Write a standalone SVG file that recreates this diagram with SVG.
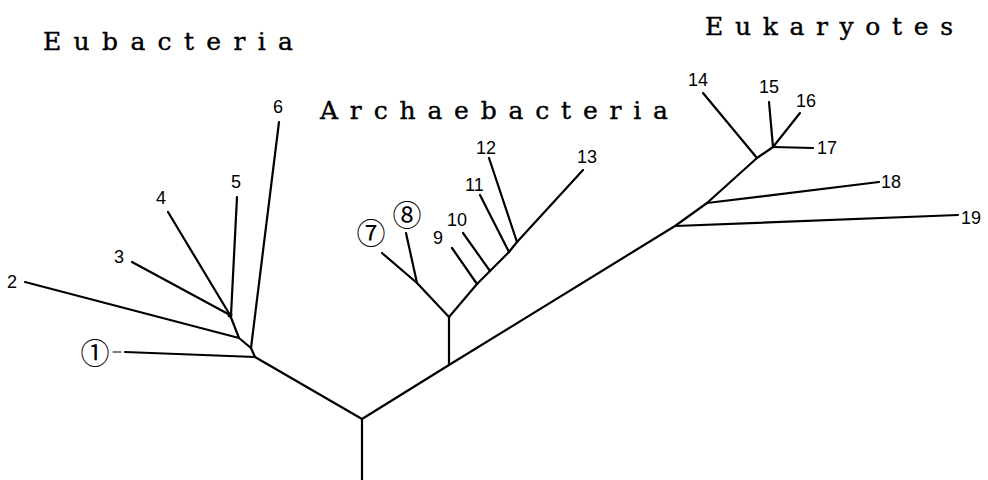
<svg xmlns="http://www.w3.org/2000/svg" width="988" height="480" viewBox="0 0 988 480">
<style>
.br{stroke:#000;stroke-width:2.2;fill:none;stroke-linecap:round;stroke-linejoin:round}
.ttl{font-family:"DejaVu Serif","Liberation Serif",serif;font-size:25px;fill:#000;stroke:#000;stroke-width:0.4}
.num{font-family:"Liberation Sans",Arial,sans-serif;font-size:18px;fill:#000}
.circ{font-family:"Noto Sans CJK JP","DejaVu Sans",sans-serif;font-size:29px;fill:#000}
</style>
<rect width="988" height="480" fill="#fff"/>
<g id="titles">
<text class="ttl" x="43" y="50" textLength="250" lengthAdjust="spacing">Eubacteria</text>
<text class="ttl" x="320" y="119" textLength="348" lengthAdjust="spacing">Archaebacteria</text>
<text class="ttl" x="705" y="35" textLength="248" lengthAdjust="spacing">Eukaryotes</text>
</g>
<g id="connectors" class="br">
<path d="M362,480 L362,419"/>
<path d="M362,419 L255,357"/>
<path d="M362,419 L449,365 L675,226 L707,203 L757,158 L773,147"/>
<path d="M255,357 L125,352"/>
<path d="M113,352 L121,352" stroke-width="1"/>
<path d="M255,357 L251,348 L239,338 L230,315"/>
<path d="M251,348 L279,122"/>
<path d="M239,338 L25,282"/>
<path d="M230,315 L132,262"/>
<path d="M230,315 L168,212"/>
<path d="M231,315 L237,197"/>
<path d="M449,365 L449,317"/>
<path d="M449,317 L417,283 L382,253"/>
<path d="M417,283 L406,233"/>
<path d="M449,317 L477,284 L490,271 L509,252 L517,242 L583,170"/>
<path d="M477,284 L452,248"/>
<path d="M490,271 L463,233"/>
<path d="M509,252 L480,195"/>
<path d="M517,242 L489,158"/>
<path d="M675,226 L958,215"/>
<path d="M707,203 L879,182"/>
<path d="M757,158 L703,93"/>
<path d="M773,147 L769,102"/>
<path d="M773,147 L800,113"/>
<path d="M773,147 L813,148"/>
<circle cx="230" cy="315" r="2.5" fill="#000" stroke="none"/>
</g>
<g id="n1"><text class="circ" x="95" y="364" text-anchor="middle">①</text></g>
<g id="n2"><text class="num" x="7" y="288">2</text></g>
<g id="n3"><text class="num" x="114" y="263">3</text></g>
<g id="n4"><text class="num" x="156" y="204">4</text></g>
<g id="n5"><text class="num" x="231" y="188">5</text></g>
<g id="n6"><text class="num" x="273" y="113">6</text></g>
<g id="n7"><text class="circ" x="371" y="244" text-anchor="middle">⑦</text></g>
<g id="n8"><text class="circ" x="407" y="226" text-anchor="middle">⑧</text></g>
<g id="n9"><text class="num" x="433" y="244">9</text></g>
<g id="n10"><text class="num" x="447" y="226">10</text></g>
<g id="n11"><text class="num" x="465" y="191">11</text></g>
<g id="n12"><text class="num" x="476" y="154">12</text></g>
<g id="n13"><text class="num" x="577" y="163">13</text></g>
<g id="n14"><text class="num" x="688" y="86">14</text></g>
<g id="n15"><text class="num" x="759" y="93">15</text></g>
<g id="n16"><text class="num" x="796" y="107">16</text></g>
<g id="n17"><text class="num" x="817" y="154">17</text></g>
<g id="n18"><text class="num" x="881" y="188">18</text></g>
<g id="n19"><text class="num" x="961" y="224">19</text></g>
</svg>
